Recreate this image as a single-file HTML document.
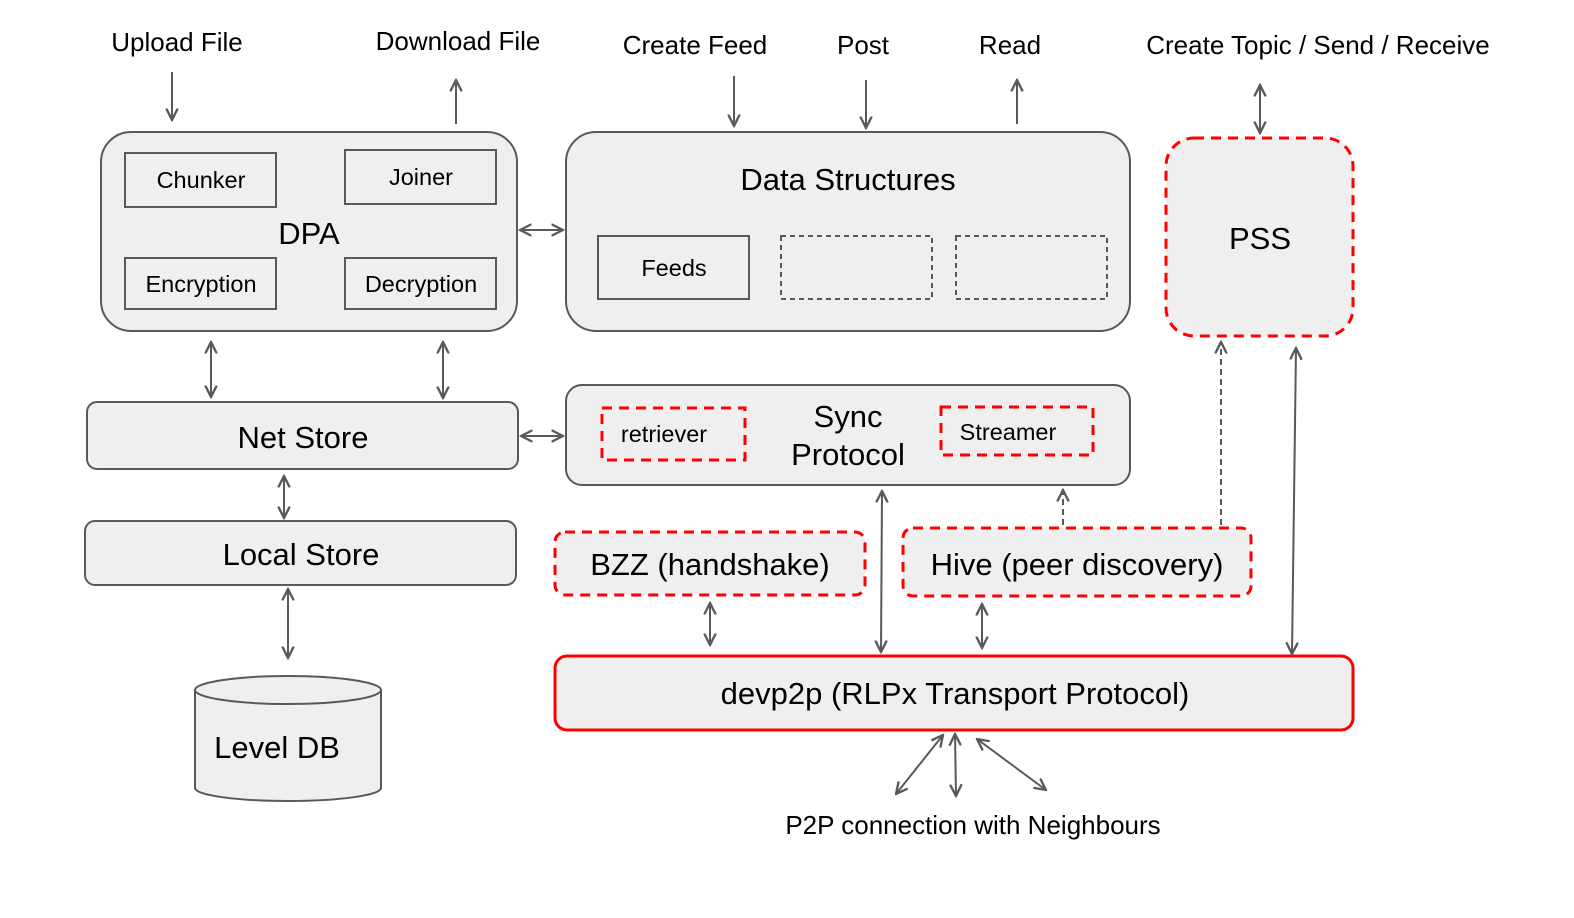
<!DOCTYPE html>
<html><head><style>body{margin:0;background:#fff}svg{display:block}text{font-family:"Liberation Sans",Arial,sans-serif;fill:#000}</style></head>
<body>
<svg width="1574" height="918" viewBox="0 0 1574 918" xmlns="http://www.w3.org/2000/svg">
<defs>
<marker id="a" viewBox="0 0 10 10" refX="9" refY="5" markerWidth="13" markerHeight="13" orient="auto-start-reverse" markerUnits="userSpaceOnUse">
<path d="M0,0.5 L9,5 L0,9.5" fill="none" stroke="#595959" stroke-width="1.8"/></marker>
</defs>
<g fill="#efefef" stroke="#595959" stroke-width="2">
<rect x="101" y="132" width="416" height="199" rx="30"/>
<rect x="566" y="132" width="564" height="199" rx="30"/>
<rect x="87" y="402" width="431" height="67" rx="10"/>
<rect x="566" y="385" width="564" height="100" rx="16"/>
<rect x="85" y="521" width="431" height="64" rx="10"/>
</g>
<g fill="#efefef" stroke="#ff0000" stroke-width="3" stroke-dasharray="10,7">
<rect x="1166" y="138" width="187" height="198" rx="28"/>
<rect x="555" y="532" width="310" height="63" rx="10"/>
<rect x="903" y="528" width="348" height="68" rx="10"/>
</g>
<g fill="none" stroke="#ff0000" stroke-width="3" stroke-dasharray="10,7">
<rect x="602" y="408" width="143" height="52"/>
<rect x="941" y="407" width="152" height="48"/>
</g>
<rect x="555" y="656" width="798" height="74" rx="12" fill="#efefef" stroke="#ff0000" stroke-width="3"/>
<g fill="none" stroke="#595959" stroke-width="2">
<rect x="125" y="153" width="151" height="54"/>
<rect x="345" y="150" width="151" height="54"/>
<rect x="125" y="258" width="151" height="51"/>
<rect x="345" y="258" width="151" height="51"/>
<rect x="598" y="236" width="151" height="63"/>
<rect x="781" y="236" width="151" height="63" stroke-dasharray="5,4"/>
<rect x="956" y="236" width="151" height="63" stroke-dasharray="5,4"/>
</g>
<path d="M195,690 L195,788 A93,13 0 0 0 381,788 L381,690" fill="#efefef" stroke="#595959" stroke-width="2"/>
<ellipse cx="288" cy="690" rx="93" ry="14" fill="#efefef" stroke="#595959" stroke-width="2"/>
<g stroke="#595959" stroke-width="2" fill="none">
<line x1="172" y1="72" x2="172" y2="120" marker-end="url(#a)"/>
<line x1="456" y1="124" x2="456" y2="80" marker-end="url(#a)"/>
<line x1="734" y1="76" x2="734" y2="126" marker-end="url(#a)"/>
<line x1="866" y1="80" x2="866" y2="128" marker-end="url(#a)"/>
<line x1="1017" y1="124" x2="1017" y2="80" marker-end="url(#a)"/>
<line x1="1260" y1="85" x2="1260" y2="133" marker-start="url(#a)" marker-end="url(#a)"/>
<line x1="520" y1="230" x2="563" y2="230" marker-start="url(#a)" marker-end="url(#a)"/>
<line x1="211" y1="342" x2="211" y2="397" marker-start="url(#a)" marker-end="url(#a)"/>
<line x1="443" y1="342" x2="443" y2="398" marker-start="url(#a)" marker-end="url(#a)"/>
<line x1="521" y1="436" x2="563" y2="436" marker-start="url(#a)" marker-end="url(#a)"/>
<line x1="284" y1="476" x2="284" y2="518" marker-start="url(#a)" marker-end="url(#a)"/>
<line x1="288" y1="589" x2="288" y2="658" marker-start="url(#a)" marker-end="url(#a)"/>
<line x1="882" y1="491" x2="881" y2="652" marker-start="url(#a)" marker-end="url(#a)"/>
<line x1="1063" y1="525" x2="1063" y2="490" stroke-dasharray="6,4" marker-end="url(#a)"/>
<line x1="1221" y1="525" x2="1221" y2="342" stroke-dasharray="6,4" marker-end="url(#a)"/>
<line x1="1296" y1="348" x2="1292" y2="654" marker-start="url(#a)" marker-end="url(#a)"/>
<line x1="710" y1="603" x2="710" y2="645" marker-start="url(#a)" marker-end="url(#a)"/>
<line x1="982" y1="604" x2="982" y2="648" marker-start="url(#a)" marker-end="url(#a)"/>
<line x1="943" y1="735" x2="896" y2="794" marker-start="url(#a)" marker-end="url(#a)"/>
<line x1="955" y1="734" x2="956" y2="796" marker-start="url(#a)" marker-end="url(#a)"/>
<line x1="977" y1="739" x2="1046" y2="790" marker-start="url(#a)" marker-end="url(#a)"/>
</g>
<g font-size="26" text-anchor="middle">
<text x="177" y="51">Upload File</text>
<text x="458" y="50">Download File</text>
<text x="695" y="54">Create Feed</text>
<text x="863" y="54">Post</text>
<text x="1010" y="54">Read</text>
<text x="1318" y="54">Create Topic / Send / Receive</text>
<text x="973" y="834">P2P connection with Neighbours</text>
</g>
<g font-size="23.5" text-anchor="middle">
<text x="201" y="188">Chunker</text>
<text x="421" y="185">Joiner</text>
<text x="201" y="292">Encryption</text>
<text x="421" y="292">Decryption</text>
<text x="674" y="276">Feeds</text>
<text x="664" y="442">retriever</text>
<text x="1008" y="440">Streamer</text>
</g>
<g font-size="31" text-anchor="middle">
<text x="309" y="244">DPA</text>
<text x="848" y="190">Data Structures</text>
<text x="1260" y="249">PSS</text>
<text x="303" y="448">Net Store</text>
<text x="848" y="427">Sync</text>
<text x="848" y="465">Protocol</text>
<text x="301" y="565">Local Store</text>
<text x="710" y="575">BZZ (handshake)</text>
<text x="1077" y="575">Hive (peer discovery)</text>
<text x="955" y="704">devp2p (RLPx Transport Protocol)</text>
<text x="277" y="758">Level DB</text>
</g>
</svg>
</body></html>
